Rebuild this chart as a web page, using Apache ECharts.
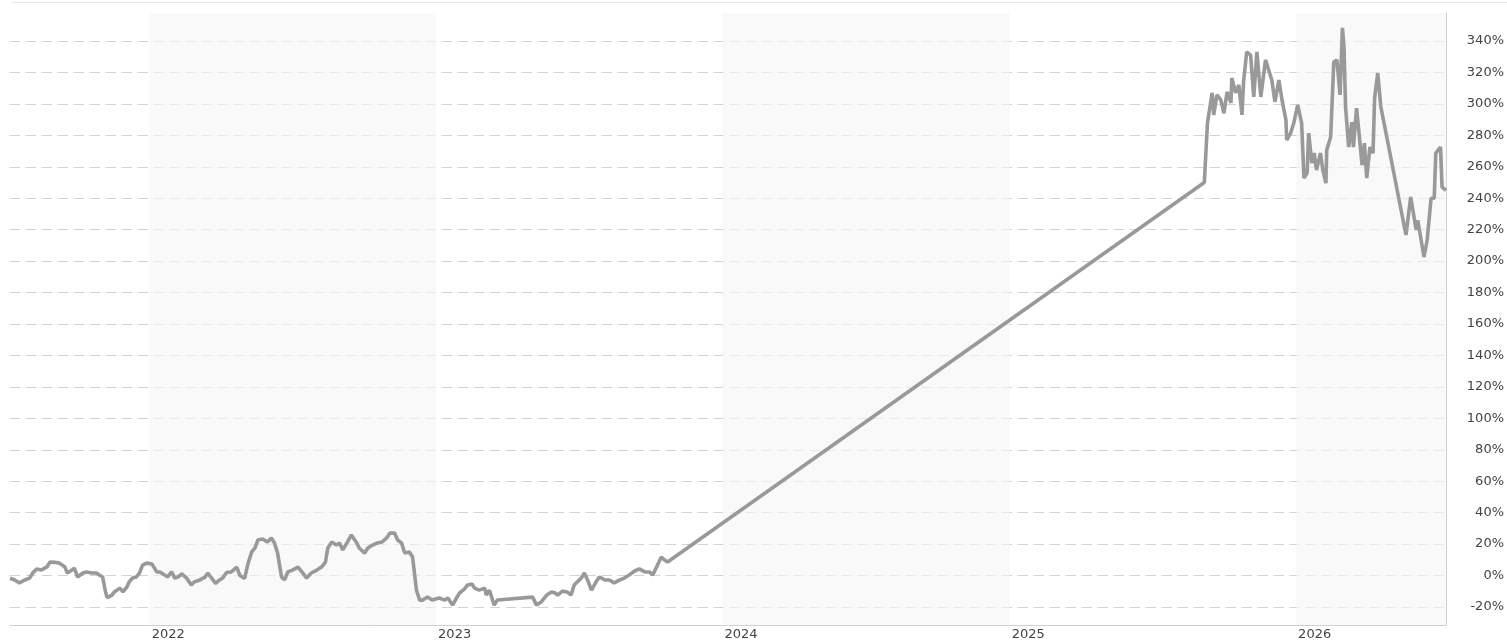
<!DOCTYPE html>
<html>
<head>
<meta charset="utf-8">
<script src="https://cdn.jsdelivr.net/npm/echarts@6/dist/echarts.min.js"></script>
<style>
html,body{margin:0;padding:0;background:#fff;}
#chart{width:1507px;height:642px;}
</style>
</head>
<body>
<div id="chart"></div>
<script>
const dates = [
'2021-07-07','2021-07-13','2021-07-19','2021-07-26','2021-08-01','2021-08-05','2021-08-10','2021-08-16','2021-08-23','2021-08-27',
'2021-09-02','2021-09-08','2021-09-15','2021-09-18','2021-09-24','2021-09-27','2021-10-01','2021-10-08','2021-10-13','2021-10-19',
'2021-10-25','2021-10-29','2021-11-02','2021-11-06','2021-11-08','2021-11-14','2021-11-17','2021-11-24','2021-11-28','2021-12-03',
'2021-12-06','2021-12-10','2021-12-15','2021-12-19','2021-12-23','2021-12-28','2022-01-04','2022-01-10','2022-01-14','2022-01-20',
'2022-01-24','2022-01-29','2022-02-02','2022-02-06','2022-02-11','2022-02-17','2022-02-23','2022-02-27','2022-03-06','2022-03-12',
'2022-03-16','2022-03-21','2022-03-26','2022-03-31','2022-04-04','2022-04-09','2022-04-15','2022-04-22','2022-04-26','2022-05-02',
'2022-05-06','2022-05-11','2022-05-15','2022-05-19','2022-05-25','2022-05-31','2022-06-05','2022-06-09','2022-06-13','2022-06-18',
'2022-06-22','2022-06-26','2022-07-02','2022-07-09','2022-07-14','2022-07-20','2022-07-26','2022-08-02','2022-08-08','2022-08-13',
'2022-08-16','2022-08-21','2022-08-27','2022-08-31','2022-09-04','2022-09-10','2022-09-15','2022-09-22','2022-09-25','2022-10-02',
'2022-10-06','2022-10-12','2022-10-18','2022-10-24','2022-10-30','2022-11-03','2022-11-09','2022-11-13','2022-11-18','2022-11-22',
'2022-11-28','2022-12-02','2022-12-07','2022-12-11','2022-12-15','2022-12-21','2022-12-27','2023-01-05','2023-01-12','2023-01-16',
'2023-01-22','2023-01-27','2023-01-31','2023-02-06','2023-02-10','2023-02-16','2023-02-19','2023-02-25','2023-03-04','2023-03-06',
'2023-03-10','2023-03-16','2023-03-20','2023-05-04','2023-05-09','2023-05-15','2023-05-22','2023-05-28','2023-06-01','2023-06-05',
'2023-06-11','2023-06-17','2023-06-22','2023-06-26','2023-06-30','2023-07-05','2023-07-09','2023-07-13','2023-07-18','2023-07-24',
'2023-07-28','2023-08-04','2023-08-10','2023-08-16','2023-08-23','2023-08-29','2023-09-04','2023-09-11','2023-09-17','2023-09-24',
'2023-09-30','2023-10-04','2023-10-09','2023-10-15','2023-10-19','2023-10-23',
'2025-09-06','2025-09-08','2025-09-10','2025-09-16','2025-09-18','2025-09-22','2025-09-27','2025-10-01','2025-10-05','2025-10-10',
'2025-10-11','2025-10-16','2025-10-20','2025-10-24','2025-10-26','2025-10-30','2025-11-04','2025-11-08','2025-11-12','2025-11-17',
'2025-11-23','2025-11-27','2025-12-01','2025-12-05','2025-12-10','2025-12-14','2025-12-19','2025-12-20','2025-12-25','2025-12-29',
'2026-01-03','2026-01-08','2026-01-11','2026-01-15','2026-01-17','2026-01-21','2026-01-24','2026-01-27','2026-02-01','2026-02-04',
'2026-02-08','2026-02-09','2026-02-14','2026-02-18','2026-02-22','2026-02-26','2026-03-01','2026-03-03','2026-03-05','2026-03-09',
'2026-03-13','2026-03-15','2026-03-19','2026-03-23','2026-03-26','2026-03-29','2026-04-01','2026-04-05','2026-04-09','2026-04-11',
'2026-04-15','2026-04-19','2026-05-21','2026-05-27','2026-06-03','2026-06-05','2026-06-13','2026-06-17','2026-06-22','2026-06-26',
'2026-06-28','2026-07-04','2026-07-06','2026-07-11'
];
const returns = [
-1.7,-2.8,-4.7,-2.8,-1.6,1.6,4.2,3.5,5.5,8.6,
8.4,7.9,5.4,1.6,3.5,4.8,-0.9,1.6,2.3,1.6,
1.6,0.3,-0.9,-11,-14,-12.4,-10.4,-8,-10.4,-7.2,
-4,-1.6,-0.9,1.6,6.7,7.9,7.3,2.3,2.3,0.3,
-0.9,2.3,-1.6,-0.9,1.0,-1.6,-6,-4,-2.8,-1.2,
1.6,-1.6,-5,-2.8,-1.6,2,2.3,5.4,0,-1.8,
7,15,17.5,22.6,23.2,21.3,23.9,20.7,14.3,-0.9,
-2.8,2.3,3.5,5.4,2.3,-1.6,1.6,3.5,5.4,8.6,
17.5,21.3,19.4,20.7,16.3,21.3,25.8,20.7,17.5,14.3,
17.5,19.4,20.7,21.3,23.9,27,27,22.6,20.7,14.3,
15,11.8,-9.3,-15.6,-15.6,-13.7,-15.6,-14.3,-15.6,-14.3,
-18.8,-14.3,-11,-8.6,-6,-5.4,-8,-9.3,-8,-12.4,
-9.3,-18.8,-15.6,-13.7,-18.8,-16.8,-12.4,-10.4,-11,-12.4,
-9.9,-10.4,-12.4,-6,-4,-1.6,1.6,-2.8,-9.3,-4,
-0.9,-2.8,-2.8,-4.7,-2.8,-1.6,0.3,2.9,4.2,2.3,
2.3,0.3,5.4,11.8,9.9,8.6,
250,251,287.8,307,293,305.7,302.5,294,307.6,300.6,
316.5,307,312,293,314,333,331,304.4,333,304.4,
328,321.6,315.2,301.3,315.2,302.5,289.8,277,281.4,287.8,
299.3,287.8,252.8,256,281.4,262.4,268.7,257.9,268.7,257.9,
249.6,270.6,279,326.6,328,305.7,348.3,336.2,298,272.5,
288.4,272.5,297.3,277,261,275,252.8,272.5,268.7,303.7,
319.6,298,216.6,240.8,219.8,226,202.6,213.4,240,240,
268.7,272.5,247,245
];
const shadedYears = [2022, 2024, 2026];
const axisStart = '2021-07-07';
const axisEnd = '2026-07-11';
const yMin = -31.45;
const yMax = 357.8;
const yStep = 20;

const utc = s => Date.parse(s + 'T00:00:00Z');
const seriesData = dates.map((d, i) => [utc(d), returns[i]]);
const bandData = shadedYears.map(y => [
  { xAxis: Date.UTC(y, 0, 1) },
  { xAxis: Math.min(Date.UTC(y + 1, 0, 1), utc(axisEnd)) }
]);

const chart = echarts.init(document.getElementById('chart'), null, { renderer: 'canvas' });
chart.setOption({
  animation: false,
  useUTC: true,
  backgroundColor: '#ffffff',
  textStyle: { fontFamily: 'DejaVu Sans' },
  grid: { left: 10, right: 60, top: 13, bottom: 17, containLabel: false },
  graphic: [{
    type: 'line', left: 10, top: 0,
    shape: { x1: 0, y1: 0.5, x2: 1497, y2: 0.5 },
    style: { stroke: '#e6e6e6', lineWidth: 1 }
  }],
  xAxis: {
    type: 'time',
    min: utc(axisStart),
    max: utc(axisEnd),
    splitNumber: 5,
    axisLine: { show: true, onZero: false, lineStyle: { color: '#d0d0d0', width: 1 } },
    axisTick: { show: false },
    splitLine: { show: false },
    axisLabel: {
      show: true,
      margin: 3,
      align: 'left',
      padding: [0, 0, 0, 2],
      color: '#444',
      fontSize: 13,
      fontFamily: 'DejaVu Sans',
      hideOverlap: false,
      formatter: v => {
        const d = new Date(v);
        return (d.getUTCMonth() === 0 && d.getUTCDate() === 1) ? String(d.getUTCFullYear()) : '';
      }
    }
  },
  yAxis: {
    type: 'value',
    position: 'right',
    min: yMin,
    max: yMax,
    minInterval: yStep,
    maxInterval: yStep,
    splitNumber: 18,
    axisLine: { show: true, lineStyle: { color: '#d0d0d0', width: 1 } },
    axisTick: { show: false },
    splitLine: {
      show: true,
      showMinLine: false,
      showMaxLine: false,
      lineStyle: { color: '#d2d2d2', width: 1, type: [10, 6] }
    },
    axisLabel: {
      show: true,
      align: 'right',
      margin: 58,
      color: '#444',
      fontSize: 13,
      fontFamily: 'DejaVu Sans',
      showMinLabel: true,
      showMaxLabel: true,
      formatter: v => (Math.abs(Math.round(v) - v) < 1e-6 && Math.round(v) % yStep === 0) ? Math.round(v) + '%' : ''
    }
  },
  series: [{
    type: 'line',
    data: seriesData,
    showSymbol: false,
    symbol: 'none',
    lineStyle: { color: '#999999', width: 3.6 },
    itemStyle: { color: '#999999' },
    z: 3,
    markArea: {
      silent: true,
      itemStyle: { color: 'rgba(245,245,245,0.63)' },
      data: bandData
    }
  }]
});
</script>
</body>
</html>
